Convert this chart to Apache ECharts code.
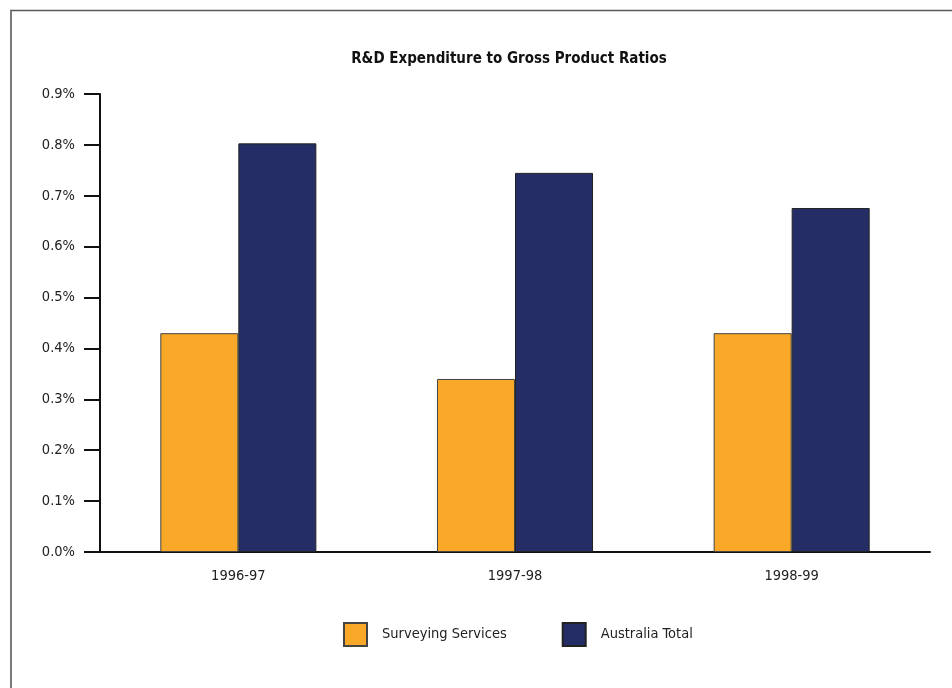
<!DOCTYPE html>
<html>
<head>
<meta charset="utf-8">
<script src="https://cdn.jsdelivr.net/npm/echarts@6/dist/echarts.min.js"></script>
<style>
html,body{margin:0;padding:0;background:#fff;}
#chart{width:952px;height:688px;}
</style>
</head>
<body>
<div id="chart"></div>
<script>
const categories = ['1996-97', '1997-98', '1998-99'];
const surveyingServices = [0.43, 0.34, 0.43];
const australiaTotal = [0.803, 0.745, 0.676];
const seriesNames = ['Surveying Services', 'Australia Total'];

const FONT = '"Liberation Sans Narrow", "DejaVu Sans Condensed", "Roboto Condensed", sans-serif';
const chart = echarts.init(document.getElementById('chart'), null, {renderer: 'canvas'});
chart.setOption({
  animation: false,
  backgroundColor: '#fff',
  textStyle: {fontFamily: FONT},
  title: {
    text: 'R&D Expenditure to Gross Product Ratios',
    left: 504,
    textAlign: 'center',
    top: 47,
    textStyle: {fontFamily: FONT, fontSize: 15, fontWeight: 'bold', color: '#111'}
  },
  graphic: [{
    type: 'rect',
    shape: {x: 11, y: 10.5, width: 980, height: 720},
    style: {fill: 'none', stroke: '#5a5a5a', lineWidth: 1.6},
    silent: true
  }],
  legend: {
    left: 338, top: 617,
    itemWidth: 23, itemHeight: 23,
    itemGap: 55,
    icon: 'rect',
    textStyle: {fontFamily: FONT, fontSize: 14.5, color: '#222', padding: [0, 0, 0, 10]},
    data: seriesNames
  },
  grid: {left: 100, right: 22, top: 94, bottom: 136, containLabel: false},
  xAxis: {
    type: 'category',
    data: categories,
    axisLine: {lineStyle: {color: '#111', width: 2}},
    axisTick: {show: false},
    axisLabel: {fontFamily: FONT, fontSize: 14.5, color: '#222', margin: 17},
    splitLine: {show: false}
  },
  yAxis: {
    type: 'value',
    min: 0, max: 0.9, interval: 0.1,
    axisLine: {show: true, lineStyle: {color: '#111', width: 2}},
    axisTick: {show: true, length: 16, lineStyle: {color: '#111', width: 2}},
    axisLabel: {fontFamily: FONT, fontSize: 14.5, color: '#222', margin: 25,
      formatter: v => v.toFixed(1) + '%'},
    splitLine: {show: false}
  },
  series: [
    {
      name: seriesNames[0], type: 'bar', data: surveyingServices,
      barGap: '0%', barCategoryGap: '43.6%',
      itemStyle: {color: '#F9A927', borderColor: '#444', borderWidth: 1}
    },
    {
      name: seriesNames[1], type: 'bar', data: australiaTotal,
      itemStyle: {color: '#252D66', borderColor: '#222', borderWidth: 1}
    }
  ]
});
</script>
</body>
</html>
